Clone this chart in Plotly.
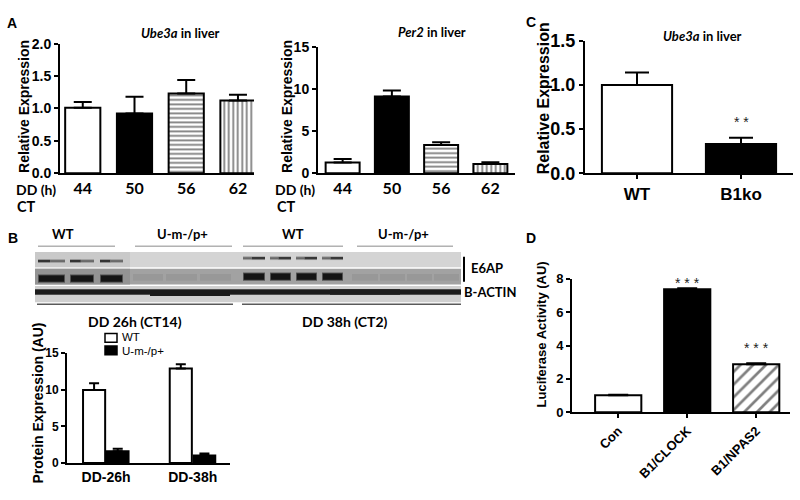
import plotly.graph_objects as go

# ---------------- data ----------------
# Panel A
dd_hours = ["44", "50", "56", "62"]
ct_times = ["8", "14", "20", "2"]
ube3a_time = [1.01, 0.92, 1.23, 1.12]
ube3a_time_err = [0.09, 0.26, 0.21, 0.09]
per2_time = [1.28, 9.15, 3.35, 1.10]
per2_time_err = [0.40, 0.70, 0.33, 0.20]

# Panel C
genotypes_c = ["WT", "B1ko"]
ube3a_b1 = [1.00, 0.33]
ube3a_b1_err = [0.14, 0.07]

# Panel B
timepoints_b = ["DD-26h", "DD-38h"]
protein_wt = [9.95, 12.85]
protein_wt_err = [0.90, 0.60]
protein_mut = [1.60, 1.05]
protein_mut_err = [0.35, 0.25]

# Panel D
constructs = ["Con", "B1/CLOCK", "B1/NPAS2"]
luciferase = [1.02, 7.38, 2.88]
luciferase_err = [0.03, 0.05, 0.06]
luciferase_ymax = 8

# ---------------- helpers ----------------
W, H = 800, 500
def X(px):
    return px / W
def Y(py):
    return 1 - py / H

ARIAL = "Liberation Sans"
CAL = "Lato"

fig = go.Figure()

def bar(x, y, err, xa, ya, fill, width, pattern=None, cap=8, offset=None):
    m = dict(color=fill, line=dict(color="black", width=2))
    if pattern:
        m["pattern"] = pattern
    kw = {}
    if offset is not None:
        kw["offset"] = offset
    return go.Bar(x=x, y=y, xaxis=xa, yaxis=ya, width=width, marker=m,
                  error_y=dict(type="data", array=err, arrayminus=[0]*len(err),
                               symmetric=False, color="black", thickness=2, width=cap),
                  showlegend=False, hoverinfo="skip", **kw)

hpat = dict(shape="-", fgcolor="black", bgcolor="white", size=4.5, solidity=0.4)
vpat = dict(shape="|", fgcolor="black", bgcolor="white", size=4.5, solidity=0.4)
dpat = dict(shape="/", fgcolor="black", bgcolor="white", size=9, solidity=0.3)

fills_a = ["white", "black", "white", "white"]
for i in range(4):
    pat = hpat if i == 2 else (vpat if i == 3 else None)
    fig.add_trace(bar([dd_hours[i]], [ube3a_time[i]], [ube3a_time_err[i]], "x", "y",
                      fills_a[i], 0.68, pat, cap=9))
for i in range(4):
    pat = hpat if i == 2 else (vpat if i == 3 else None)
    fig.add_trace(bar([dd_hours[i]], [per2_time[i]], [per2_time_err[i]], "x2", "y2",
                      fills_a[i], 0.69, pat, cap=9))
fig.add_trace(bar([genotypes_c[0]], [ube3a_b1[0]], [ube3a_b1_err[0]], "x3", "y3", "white", 0.675, cap=12))
fig.add_trace(bar([genotypes_c[1]], [ube3a_b1[1]], [ube3a_b1_err[1]], "x3", "y3", "black", 0.675, cap=12))
fig.add_trace(bar(timepoints_b, protein_wt, protein_wt_err, "x4", "y4", "white", 0.255, cap=5, offset=-0.265))
fig.add_trace(bar(timepoints_b, protein_mut, protein_mut_err, "x4", "y4", "black", 0.25, cap=5, offset=0.01))
fills_d = ["white", "black", "white"]
for i in range(3):
    fig.add_trace(bar([constructs[i]], [luciferase[i]], [luciferase_err[i]], "x5", "y5",
                      fills_d[i], 0.67, dpat if i == 2 else None, cap=10))

base = dict(showline=True, linecolor="black", linewidth=2, showgrid=False, zeroline=False,
            ticks="outside", ticklen=4, tickwidth=2, tickcolor="black", fixedrange=True)

def yax(dom, rng, tv, fmt, size, anchor):
    d = dict(base)
    d.update(domain=[Y(dom[0]), Y(dom[1])], range=rng, tickvals=tv,
             ticktext=["<b>" + format(v, fmt) + "</b>" for v in tv], anchor=anchor,
             tickfont=dict(family=ARIAL, size=size, color="black"))
    return d

def xax(dom, rng, cats, size, fam=ARIAL, ticks="", angle=0, anchor="y"):
    d = dict(base)
    d.update(domain=[X(dom[0]), X(dom[1])], range=rng, type="category", ticks=ticks,
             tickangle=angle, anchor=anchor, tickvals=cats,
             ticktext=["<b>" + c + "</b>" for c in cats],
             tickfont=dict(family=fam, size=size, color="black"))
    return d

fig.update_layout(
    width=W, height=H, margin=dict(l=0, r=0, t=0, b=0),
    paper_bgcolor="white", plot_bgcolor="white", barmode="overlay", showlegend=False,
    xaxis=xax((60, 254), [-0.44, 3.31], dd_hours, 16, CAL, anchor="y"),
    yaxis=yax((170, 35), [0, 2], [0, 0.5, 1, 1.5, 2], ".1f", 14, "x"),
    xaxis2=xax((318, 515), [-0.5, 3.5], dd_hours, 16, CAL, anchor="y2"),
    yaxis2=yax((170, 39), [0, 15], [0, 5, 10, 15], "d", 14, "x2"),
    xaxis3=xax((585, 793), [-0.5, 1.5], genotypes_c, 17, ticks="outside", anchor="y3"),
    yaxis3=yax((170, 32), [0, 1.5], [0, 0.5, 1, 1.5], ".1f", 18, "x3"),
    xaxis4=xax((67, 230), [-0.45, 1.43], timepoints_b, 14, anchor="y4"),
    yaxis4=yax((472, 357), [0, 15], [0, 5, 10, 15], "d", 12, "x4"),
    xaxis5=xax((572, 790), [-0.67, 2.49], constructs, 13, ticks="outside", angle=-45, anchor="y5"),
    yaxis5=yax((419, 280), [0, luciferase_ymax], [0, 2, 4, 6, 8], "d", 13, "x5"),
)

ann = []
def text(t, px, py, size, fam=ARIAL, bold=True, xanchor="center", angle=0, color="black"):
    ann.append(dict(text=("<b>" + t + "</b>") if bold else t, x=X(px), y=Y(py),
                    xref="paper", yref="paper", showarrow=False,
                    xanchor=xanchor, yanchor="middle", textangle=angle,
                    font=dict(family=fam, size=size, color=color)))

text("A", 12, 14, 14)
text("B", 13, 237, 14)
text("C", 531, 12, 14)
text("D", 531, 237, 14)

text("<i>Ube3a</i> in liver", 180, 24, 13, CAL)
text("<i>Per2</i> in liver", 432, 23, 13, CAL)
text("<i>Ube3a</i> in liver", 702, 27, 13, CAL)

text("Relative Expression", 24, 101, 14, angle=-90)
text("Relative Expression", 287, 101, 14, angle=-90)
text("Relative Expression", 543, 92, 16, angle=-90)
text("Protein Expression (AU)", 38, 410, 14, angle=-90)
text("Luciferase Activity (AU)", 541, 338, 13, angle=-90)

text("DD (h)", 58, 187, 14, CAL, xanchor="right")
text("CT", 15, 205, 14.5, CAL, xanchor="left")
text("DD (h)", 317, 187, 14, CAL, xanchor="right")
text("CT", 275, 205, 14.5, CAL, xanchor="left")
for xa in ("x", "x2"):
    for i, c in enumerate(ct_times):
        ann.append(dict(text=c, x=dd_hours[i], y=Y(205), xref=xa, yref="paper", showarrow=False,
                        font=dict(family=CAL, size=15, color="black")))

star_font = dict(family=ARIAL, size=14, color="#222")
ann.append(dict(text="* *", x=genotypes_c[1], y=0.58, xref="x3", yref="y3", showarrow=False, font=star_font))
ann.append(dict(text="* * *", x=constructs[1], y=8.37 / luciferase_ymax, xref="x5", yref="y5 domain",
                showarrow=False, font=star_font))
ann.append(dict(text="* * *", x=constructs[2], y=3.87 / luciferase_ymax, xref="x5", yref="y5 domain",
                showarrow=False, font=star_font))

text("WT", 63, 233, 13, CAL)
text("U-m-/p+", 182, 233, 13, CAL)
text("WT", 293, 233, 13, CAL)
text("U-m-/p+", 403, 233, 13, CAL)
text("E6AP", 469, 269, 13, CAL, xanchor="left")
text("B-ACTIN", 462, 294, 13, CAL, xanchor="left")
text("DD 26h (CT14)", 135, 324, 14, CAL)
text("DD 38h (CT2)", 345, 324, 14, CAL)

text("WT", 120, 341, 11.5, bold=False, xanchor="left")
text("U-m-/p+", 120, 355, 11.5, bold=False, xanchor="left")

fig.update_layout(annotations=ann)

# ---------------- blot drawing ----------------
shapes = []
def rect(x0, y0, x1, y1, fill, line=None, lw=0, opacity=1):
    shapes.append(dict(type="rect", xref="paper", yref="paper", x0=X(x0), x1=X(x1),
                       y0=Y(y0), y1=Y(y1), fillcolor=fill, opacity=opacity,
                       line=dict(color=line or fill, width=lw), layer="above"))
def line(x0, y0, x1, y1, color, w):
    shapes.append(dict(type="line", xref="paper", yref="paper", x0=X(x0), x1=X(x1),
                       y0=Y(y0), y1=Y(y1), line=dict(color=color, width=w), layer="above"))

rect(35, 252, 461, 268, "#d4d4d4")
rect(35, 252, 130, 268, "#c9c9c9")
rect(35, 269.5, 461, 286, "#a2a2a2")
rect(35, 269.5, 130, 286, "#939393")
rect(35, 287.5, 461, 304.5, "#d0d0d0")

wt26_lanes = [(38, 65), (70, 94), (100, 123)]
wt38_lanes = [(243, 265), (270, 291), (296, 317), (322, 343)]
mut26_lanes = [(133, 163), (166, 197), (200, 231)]
mut38_lanes = [(352, 378), (380, 405), (407, 432), (434, 459)]

for (a, b) in wt26_lanes:
    rect(a, 259.5, b, 263.5, "#a0a0a0")
    rect(a, 260.3, a + (b - a) * 0.45, 262.7, "#333333")
    rect(a + (b - a) * 0.45, 260.5, b, 262.5, "#6a6a6a")
for (a, b) in wt38_lanes:
    rect(a, 256.5, b, 260.5, "#a6a6a6")
    rect(a + (b - a) * 0.4, 257.3, b, 259.7, "#383838")
    rect(a, 257.5, a + (b - a) * 0.4, 259.5, "#6a6a6a")
for (a, b) in wt26_lanes:
    rect(a, 275.5, b, 284, "#505050")
    rect(a + 1, 276.5, b - 1, 283, "#141414")
for (a, b) in wt38_lanes:
    rect(a, 273.5, b, 282, "#505050")
    rect(a + 1, 274.5, b - 1, 281, "#141414")
for (a, b) in mut26_lanes + mut38_lanes:
    rect(a, 275, b, 282, "#989898")

rect(35, 290.5, 461, 297, "#606060")
rect(35, 291.5, 461, 296, "#1c1c1c")
rect(150, 292, 230, 298, "#1c1c1c")
rect(330, 291, 400, 296.5, "#1c1c1c")

for a, b in [(38, 115), (135, 232), (243, 343), (357, 453)]:
    line(a, 246, b, 246, "#8a8a8a", 1)
for a, b in [(37, 233), (242, 461)]:
    line(a, 306.5, b, 306.5, "#5a5a5a", 1.5)
line(464, 257, 464, 283, "black", 2)

rect(105, 337, 117, 346, "white", "black", 1.5)
rect(105, 350, 117, 359, "black", "black", 1.5)

fig.update_layout(shapes=shapes)
fig.write_html("out.html", config={"displayModeBar": False},
               post_script="document.body.style.margin='0px';document.body.style.padding='0px';")
